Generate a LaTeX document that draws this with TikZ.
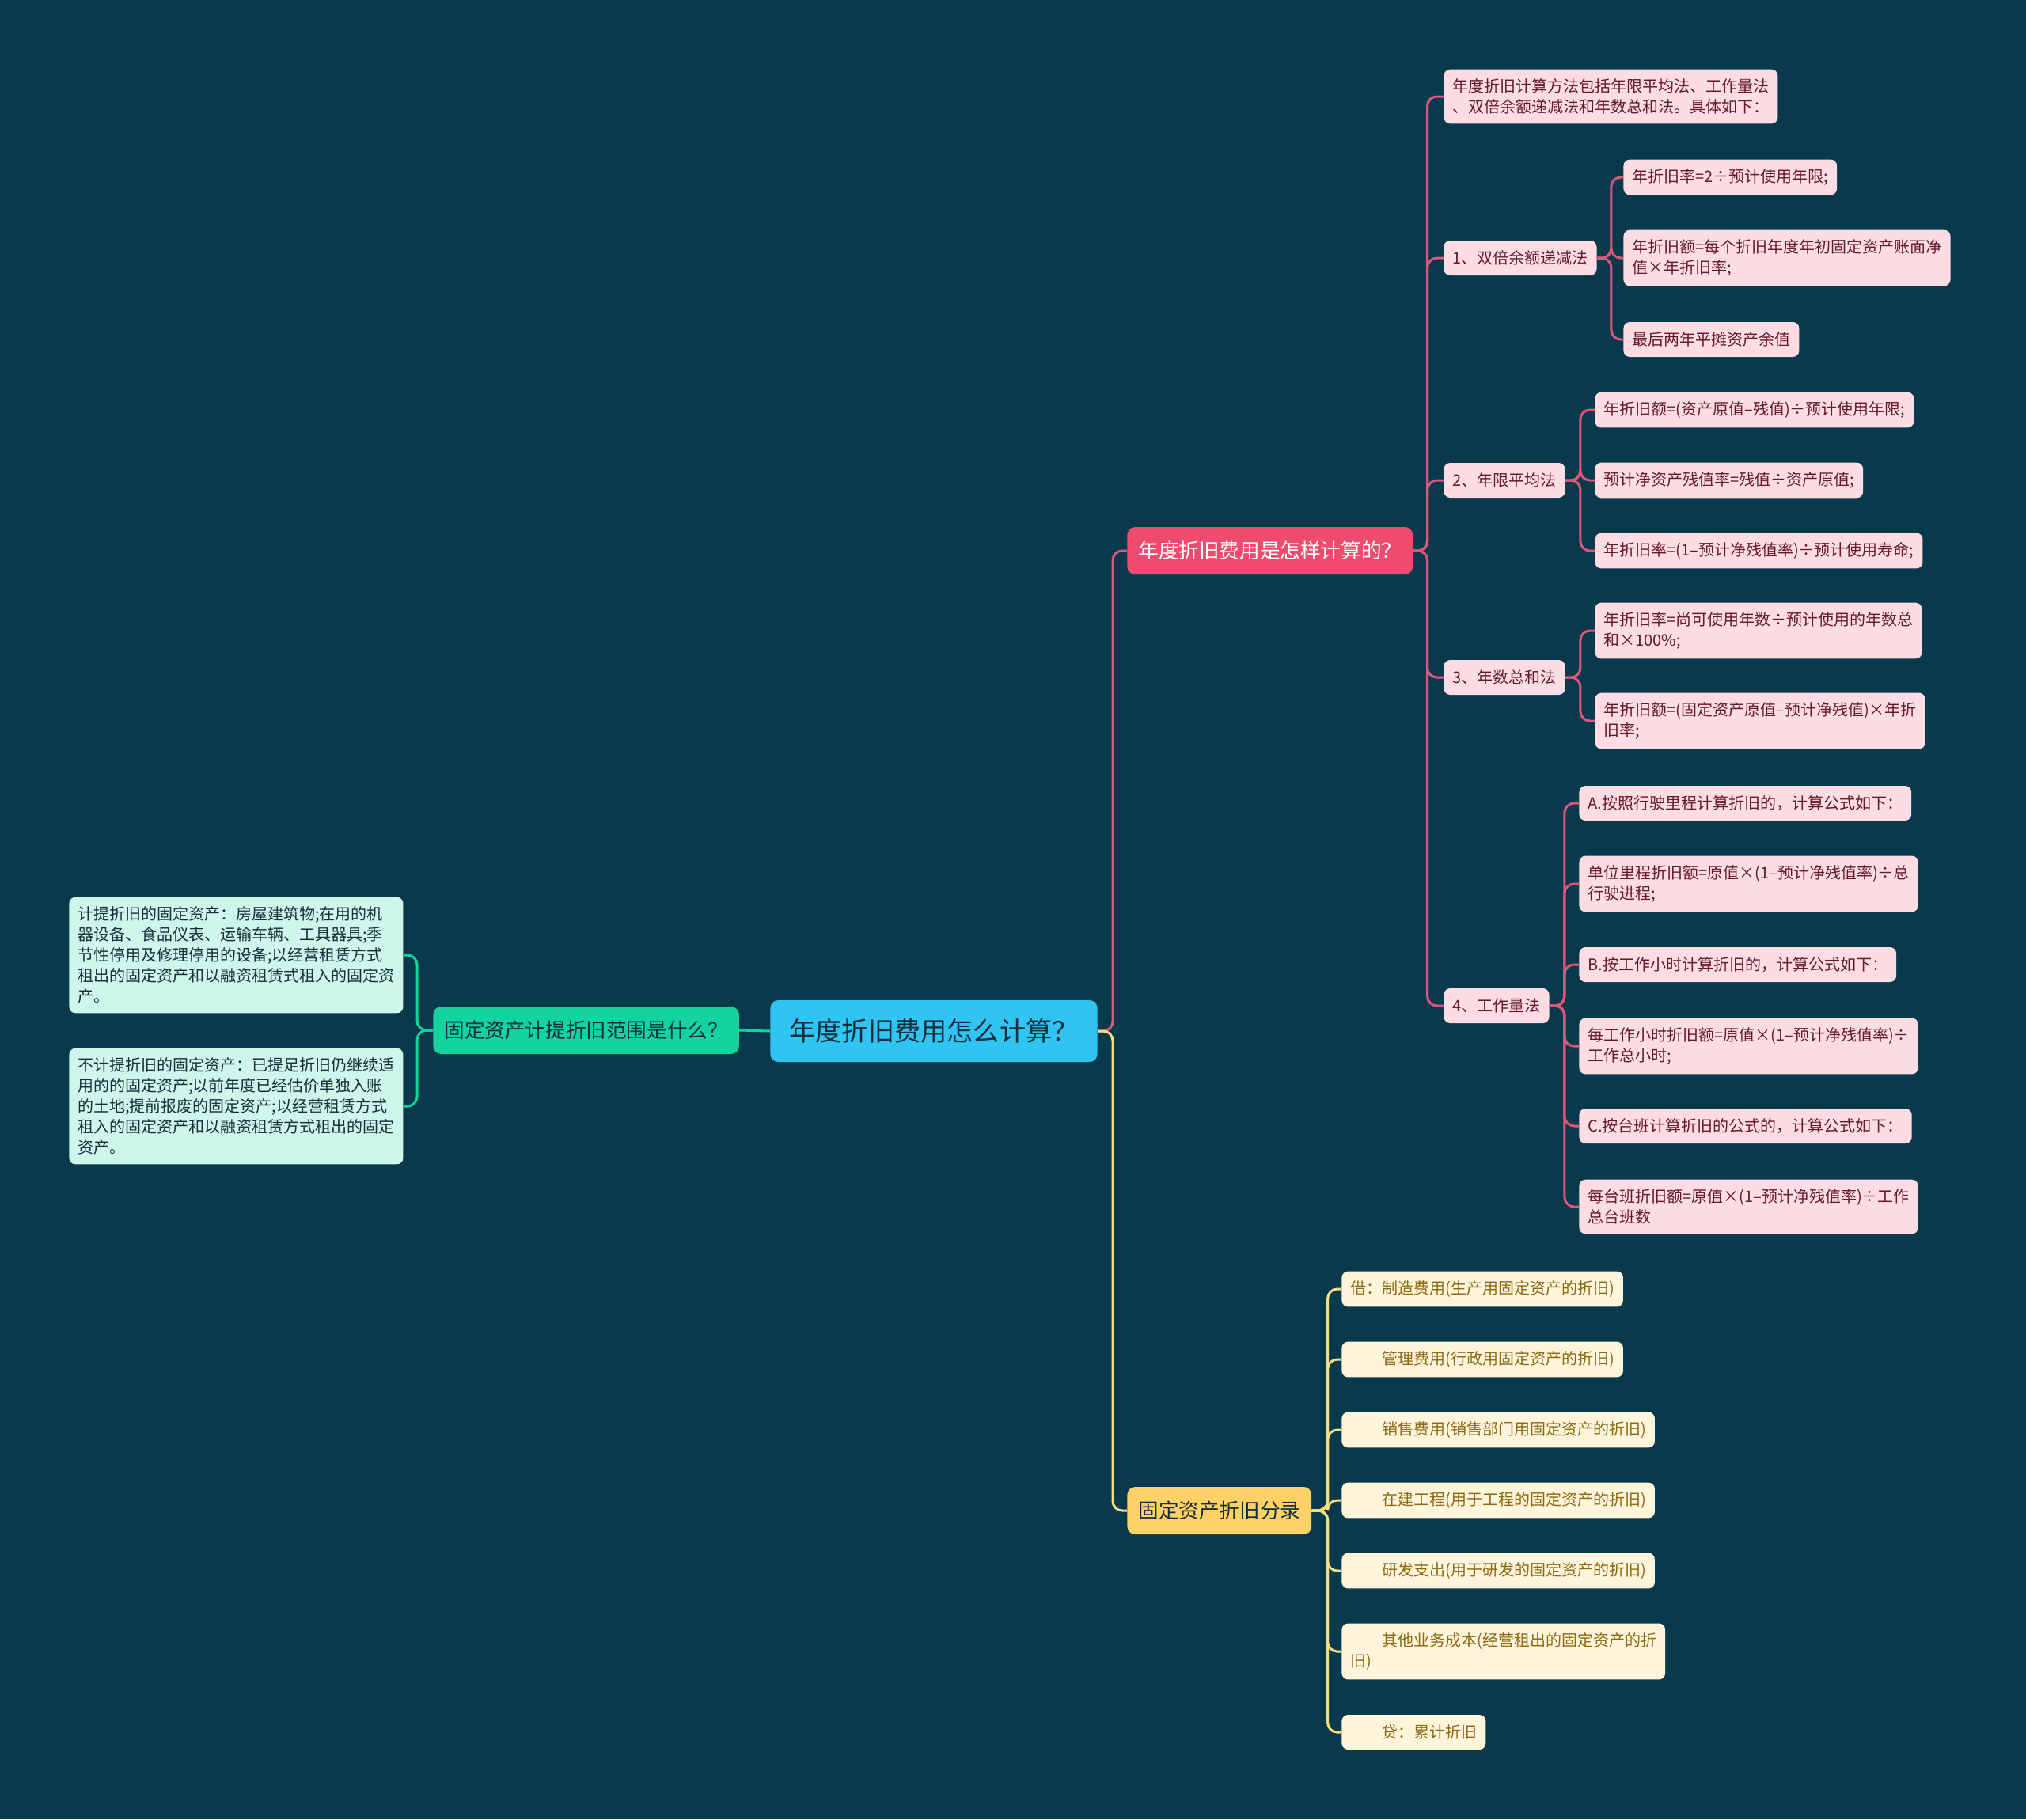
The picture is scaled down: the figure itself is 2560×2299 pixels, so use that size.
\documentclass[tikz,border=0pt]{standalone}
\usepackage{fontspec}
\setmainfont{Noto Sans CJK SC}
\definecolor{bgcol}{HTML}{083A4C}
\definecolor{rootcol}{HTML}{30C4F2}
\definecolor{pinkcol}{HTML}{EE4B6F}
\definecolor{pinkln}{HTML}{E0557C}
\definecolor{pinkleaf}{HTML}{FDDDE3}
\definecolor{pinktext}{HTML}{641A2C}
\definecolor{yellowcol}{HTML}{FFD166}
\definecolor{yellowln}{HTML}{F6DE82}
\definecolor{yellowleaf}{HTML}{FFF5DC}
\definecolor{yellowtext}{HTML}{8C6A12}
\definecolor{greencol}{HTML}{13D39F}
\definecolor{greenleaf}{HTML}{CEF6EA}
\definecolor{darktext}{HTML}{15303C}

\begin{document}
\begin{tikzpicture}[x=0.5pt,y=-0.5pt,
    leafbox/.style={rounded corners=4pt,anchor=west,align=left,inner xsep=5.5pt,inner ysep=6pt,minimum height=22pt,font=\fontsize{10pt}{13pt}\selectfont},
    pinkbox/.style={leafbox,fill=pinkleaf,text=pinktext},
    yellowbox/.style={leafbox,fill=yellowleaf,text=yellowtext},
    greenbox/.style={leafbox,fill=greenleaf,text=darktext},
    mainbox/.style={rounded corners=5pt,anchor=west,inner xsep=7pt,minimum height=30pt,font=\fontsize{12.8pt}{15pt}\selectfont},
    pinkedge/.style={draw=pinkln,line width=1.5pt,rounded corners=6pt},
    yellowedge/.style={draw=yellowln,line width=1.5pt,rounded corners=6pt},
    greenedge/.style={draw=greencol,line width=1.5pt,rounded corners=6pt}]
  \fill[bgcol] (0,0) rectangle (2560,2299);
  \useasboundingbox (0,0) rectangle (2560,2299);

  % centre and main branches
  \node[mainbox,fill=rootcol,text=darktext,inner xsep=12pt,minimum height=39pt,font=\fontsize{16.6pt}{20pt}\selectfont] (root) at (973,1303) {年度折旧费用怎么计算？};
  \node[mainbox,fill=pinkcol,text=white] (calc) at (1424,696) {年度折旧费用是怎样计算的？};
  \node[mainbox,fill=yellowcol,text=darktext] (entry) at (1424,1909) {固定资产折旧分录};
  \node[mainbox,fill=greencol,text=darktext] (scope) at (547,1302) {固定资产计提折旧范围是什么？};

  % pink side
  \node[pinkbox] (intro) at (1824,122) {年度折旧计算方法包括年限平均法、工作量法\\、双倍余额递减法和年数总和法。具体如下：};
  \node[pinkbox] (ddb) at (1824,326) {1、双倍余额递减法};
  \node[pinkbox] (ddba) at (2051,224) {年折旧率=2÷预计使用年限;};
  \node[pinkbox] (ddbb) at (2051,326) {年折旧额=每个折旧年度年初固定资产账面净\\值×年折旧率;};
  \node[pinkbox] (ddbc) at (2051,429) {最后两年平摊资产余值};
  \node[pinkbox] (sl) at (1824,607) {2、年限平均法};
  \node[pinkbox] (sla) at (2015,518) {年折旧额=(资产原值–残值)÷预计使用年限;};
  \node[pinkbox] (slb) at (2015,607) {预计净资产残值率=残值÷资产原值;};
  \node[pinkbox] (slc) at (2015,696) {年折旧率=(1–预计净残值率)÷预计使用寿命;};
  \node[pinkbox] (syd) at (1824,856) {3、年数总和法};
  \node[pinkbox] (syda) at (2015,797) {年折旧率=尚可使用年数÷预计使用的年数总\\和×100\%;};
  \node[pinkbox] (sydb) at (2015,911) {年折旧额=(固定资产原值–预计净残值)×年折\\旧率;};
  \node[pinkbox] (wl) at (1824,1271) {4、工作量法};
  \node[pinkbox] (wla) at (1995,1015) {A.按照行驶里程计算折旧的，计算公式如下：};
  \node[pinkbox] (wlb) at (1995,1117) {单位里程折旧额=原值×(1–预计净残值率)÷总\\行驶进程;};
  \node[pinkbox] (wlc) at (1995,1219) {B.按工作小时计算折旧的，计算公式如下：};
  \node[pinkbox] (wld) at (1995,1322) {每工作小时折旧额=原值×(1–预计净残值率)÷\\工作总小时;};
  \node[pinkbox] (wle) at (1995,1423) {C.按台班计算折旧的公式的，计算公式如下：};
  \node[pinkbox] (wlf) at (1995,1525) {每台班折旧额=原值×(1–预计净残值率)÷工作\\总台班数};

  % yellow side
  \node[yellowbox] (dra) at (1695,1629) {借：制造费用(生产用固定资产的折旧)};
  \node[yellowbox] (drb) at (1695,1718) {　　管理费用(行政用固定资产的折旧)};
  \node[yellowbox] (drc) at (1695,1807) {　　销售费用(销售部门用固定资产的折旧)};
  \node[yellowbox] (drd) at (1695,1896) {　　在建工程(用于工程的固定资产的折旧)};
  \node[yellowbox] (dre) at (1695,1985) {　　研发支出(用于研发的固定资产的折旧)};
  \node[yellowbox] (drf) at (1695,2087) {　　其他业务成本(经营租出的固定资产的折\\旧)};
  \node[yellowbox] (cr) at (1695,2189) {　　贷：累计折旧};

  % green side
  \node[greenbox] (incl) at (87,1207) {计提折旧的固定资产：房屋建筑物;在用的机\\器设备、食品仪表、运输车辆、工具器具;季\\节性停用及修理停用的设备;以经营租赁方式\\租出的固定资产和以融资租赁式租入的固定资\\产。};
  \node[greenbox] (excl) at (87,1398) {不计提折旧的固定资产：已提足折旧仍继续适\\用的的固定资产;以前年度已经估价单独入账\\的土地;提前报废的固定资产;以经营租赁方式\\租入的固定资产和以融资租赁方式租出的固定\\资产。};

  % connectors
  \path (root.east) ++(19,0) coordinate (rs);
  \draw[pinkedge] (root.east) -- (rs) |- (calc.west);
  \draw[yellowedge] (root.east) -- (rs) |- (entry.west);
  \draw[greenedge] (scope.east) -- (root.west);
  \path (scope.west) ++(-20,0) coordinate (gs);
  \foreach \c in {incl,excl} \draw[greenedge] (scope.west) -- (gs) |- (\c.east);
  \path (calc.east) ++(18,0) coordinate (ps);
  \foreach \c in {intro,ddb,sl,syd,wl} \draw[pinkedge] (calc.east) -- (ps) |- (\c.west);
  \path (ddb.east) ++(18,0) coordinate (ps1);
  \foreach \c in {ddba,ddbb,ddbc} \draw[pinkedge] (ddb.east) -- (ps1) |- (\c.west);
  \path (sl.east) ++(19,0) coordinate (ps2);
  \foreach \c in {sla,slb,slc} \draw[pinkedge] (sl.east) -- (ps2) |- (\c.west);
  \path (syd.east) ++(19,0) coordinate (ps3);
  \foreach \c in {syda,sydb} \draw[pinkedge] (syd.east) -- (ps3) |- (\c.west);
  \path (wl.east) ++(19,0) coordinate (ps4);
  \foreach \c in {wla,wlb,wlc,wld,wle,wlf} \draw[pinkedge] (wl.east) -- (ps4) |- (\c.west);
  \path (entry.east) ++(20,0) coordinate (ys);
  \foreach \c in {dra,drb,drc,drd,dre,drf,cr} \draw[yellowedge] (entry.east) -- (ys) |- (\c.west);
\end{tikzpicture}
\end{document}
